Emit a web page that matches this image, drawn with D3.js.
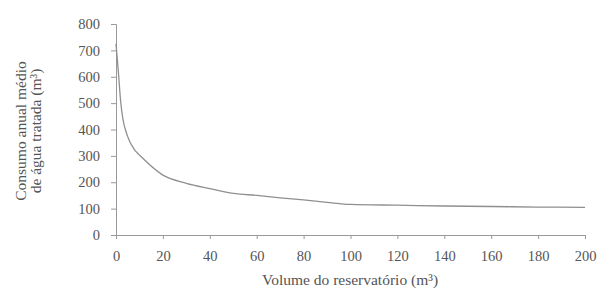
<!DOCTYPE html>
<html>
  <head>
    <meta charset="utf-8">
    <title>Consumo anual médio de água tratada</title>
    <script src="https://d3js.org/d3.v7.min.js"></script>
    <style>
      body { margin: 0; background: #fff; }
      #chart { width: 599px; height: 289px; display: block; }
      text { font-family: "Liberation Serif", "DejaVu Serif", serif; fill: #555; }
      .tick text { font-size: 14.5px; }
      .axisLabel { font-size: 15.5px; }
      .domain, .tick line { stroke: #999; }
      .plot { fill: none; stroke: #8f8f8f; stroke-width: 1.3; }
    </style>
  </head>
  <body>
    <svg id="chart">
      <g id="xAxisGroup"></g>
      <g id="yAxisGroup"></g>
      <path class="plot" id="curve"></path>
      <text class="axisLabel" id="xLabel" text-anchor="middle">Volume do reservatório (m³)</text>
      <g id="yLabel">
        <text class="axisLabel" text-anchor="middle" y=0>Consumo anual médio</text>
        <text class="axisLabel" text-anchor="middle" y=15>de água tratada (m³)</text>
      </g>
    </svg>
    <script>
      // values
      volume = [0, 1, 2, 3, 4, 5, 6, 7, 8, 9, 10, 20, 30, 40, 50, 60, 70, 80, 90, 100, 120, 140, 160, 180, 200];
      consumo = [725, 620, 505, 437, 400, 373, 352, 336, 322, 312, 303, 227, 196, 176, 158, 150, 141, 133, 124, 116, 113, 110, 108, 106, 105];
      xTicks = [0, 20, 40, 60, 80, 100, 120, 140, 160, 180, 200];
      yTicks = [0, 100, 200, 300, 400, 500, 600, 700, 800];

      data = volume.map(function(v, i) { return { v: v, c: consumo[i] }; });

      margin = { top: 24, right: 14, bottom: 54, left: 116 };
      width = 599;
      height = 289;

      x = d3.scaleLinear().domain([0, 200]).range([margin.left, width - margin.right]);
      y = d3.scaleLinear().domain([0, 800]).range([height - margin.bottom, margin.top]);

      xAxis = d3.axisBottom(x).tickValues(xTicks).tickSizeInner(4).tickSizeOuter(4).tickPadding(12);
      yAxis = d3.axisLeft(y).tickValues(yTicks).tickSizeInner(5).tickSizeOuter(5).tickPadding(11);

      d3.select("#xAxisGroup")
        .attr("transform", "translate(0, " + (height - margin.bottom) + ")")
        .call(xAxis);
      d3.select("#yAxisGroup")
        .attr("transform", "translate(" + margin.left + ", 0)")
        .call(yAxis);
      d3.selectAll(".tick text").attr("fill", null).style("fill", "#555");
      d3.selectAll(".domain, .tick line").attr("stroke", null);

      line = d3.line()
        .x(function(d) { return x(d.v); })
        .y(function(d) { return y(d.c); })
        .curve(d3.curveMonotoneX);
      d3.select("#curve").attr("d", line(data));

      d3.select("#xLabel").attr("x", 350).attr("y", 285);
      d3.select("#yLabel").attr("transform", "translate(26, 131) rotate(-90)");
    </script>
  </body>
</html>
